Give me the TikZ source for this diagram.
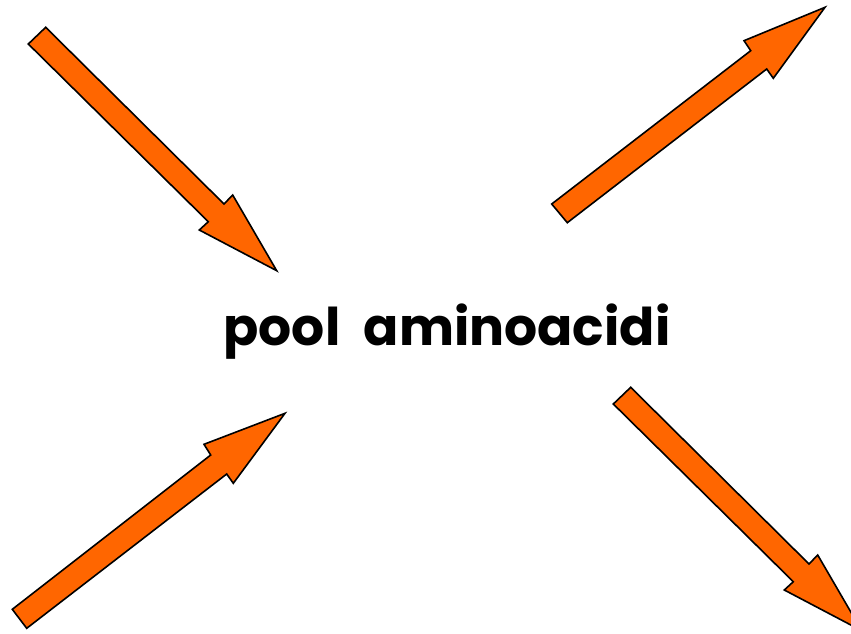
\documentclass[tikz,border=0pt]{standalone}
\usepackage{fontspec}
\setmainfont{Poppins}
\begin{document}
\begin{tikzpicture}[x=1pt,y=-1pt,
  bigarrow/.style={fill={rgb,255:red,255;green,102;blue,0},draw=black,line width=1.6pt,line join=miter}]
\useasboundingbox (0,0) rectangle (851,634);
\clip (0,0) rectangle (851,634);
% top-left arrow
\draw[bigarrow] (45.7,27.3) -- (224,204) -- (232.7,195) -- (276.7,270.7) -- (199.3,230) -- (208.3,221.7) -- (28.3,44) -- cycle;
% bottom-right arrow
\draw[bigarrow] (630.7,387.3) -- (809,564) -- (817.7,555) -- (861.7,630.7) -- (784.3,590) -- (793.3,581.7) -- (613.3,404) -- cycle;
% top-right arrow
\draw[bigarrow] (551.7,204) -- (750.7,50.7) -- (744,40.7) -- (825,7.3) -- (773.3,78.3) -- (766.7,69) -- (567.3,222.7) -- cycle;
% bottom-left arrow
\draw[bigarrow] (12.3,609.3) -- (210.7,455) -- (204,444.3) -- (285,413.3) -- (233.3,483.3) -- (226.7,474) -- (26.7,628.3) -- cycle;
\node[font=\fontsize{52}{60}\selectfont\bfseries, anchor=base, inner sep=0pt] (pool) at (447,345) {pool\hspace{0.45em}aminoacidi};
\end{tikzpicture}
\end{document}
